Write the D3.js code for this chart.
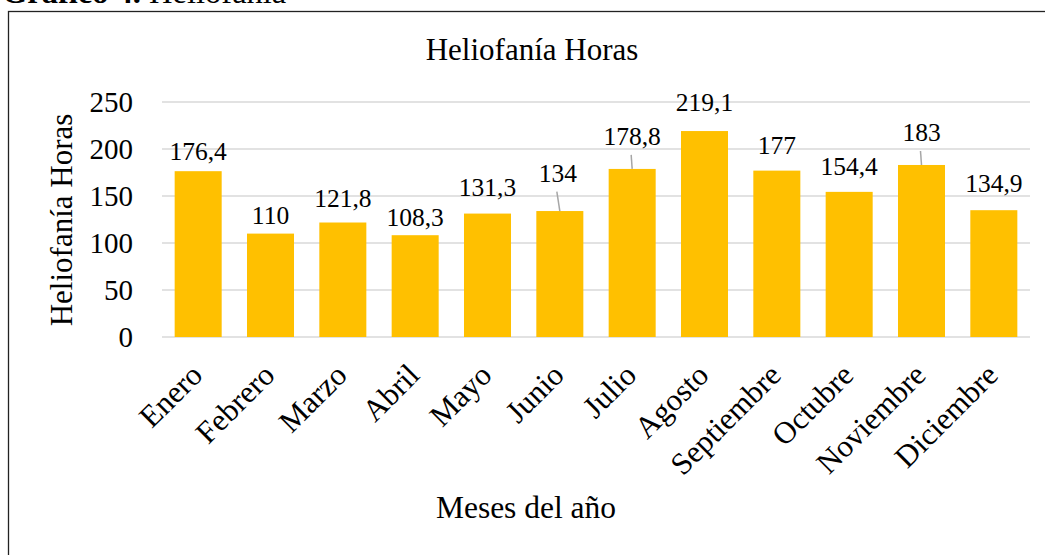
<!DOCTYPE html>
<html>
<head>
<meta charset="utf-8">
<script src="https://cdn.jsdelivr.net/npm/d3@7"></script>
<style>
  html, body { margin: 0; padding: 0; background: #fff; }
  svg { display: block; font-family: "Liberation Serif", "Times New Roman", serif; }
</style>
</head>
<body>
<svg id="chart" width="1045" height="555"></svg>
<script>
// ---- data ----
const months = ["Enero","Febrero","Marzo","Abril","Mayo","Junio","Julio","Agosto","Septiembre","Octubre","Noviembre","Diciembre"];
const hours = [176.4, 110, 121.8, 108.3, 131.3, 134, 178.8, 219.1, 177, 154.4, 183, 134.9];
const valueLabels = ["176,4","110","121,8","108,3","131,3","134","178,8","219,1","177","154,4","183","134,9"];
const yTicks = [0, 50, 100, 150, 200, 250];
const chartTitle = "Heliofanía Horas";
const yTitle = "Heliofanía Horas";
const xTitle = "Meses del año";

// ---- layout (label placement as in the reference) ----
const labelGap = [10.7, 9.7, 15.3, 9.3, 17.3, 29.4, 24, 20.3, 16.7, 16.6, 24, 18.4];
const leader = [false,false,false,false,false,true,true,false,false,false,true,false];
const labelDx = [0,0,0,0,0,-2,0,0,0,0,0,0];

const svg = d3.select("#chart");

// caption (cut off at top, as in the reference)
const cap = svg.append("text").attr("x", 2).attr("y", 3)
  .attr("font-size", 32.5).attr("fill", "#000");
cap.append("tspan").attr("font-weight", "bold").text("Gráfico 4. ");
cap.append("tspan").text("Heliofanía");

// chart border
svg.append("rect").attr("x", 8.5).attr("y", 11.5).attr("width", 1100).attr("height", 700)
  .attr("fill", "#fff").attr("stroke", "#222").attr("stroke-width", 1.3);

const x = d3.scaleBand().domain(months).range([162, 1030]).paddingInner(0.35).paddingOuter(0.175);
const y = d3.scaleLinear().domain([0, 250]).range([337, 102]);

// gridlines
svg.append("g").selectAll("line").data(yTicks).join("line")
  .attr("x1", 162).attr("x2", 1030)
  .attr("y1", d => y(d)).attr("y2", d => y(d))
  .attr("stroke", "#d9d9d9").attr("stroke-width", 1.5);

// y axis
const yAxis = svg.append("g").attr("transform", "translate(133,0)")
  .call(d3.axisLeft(y).tickValues(yTicks).tickSize(0).tickPadding(0).tickFormat(d3.format("d")));
yAxis.select(".domain").remove();
yAxis.selectAll("text").attr("font-size", 29).attr("fill", "#000")
  .attr("font-family", "Liberation Serif, serif").attr("dy", "0.34em");

// bars
svg.append("g").selectAll("rect").data(hours).join("rect")
  .attr("x", (d, i) => x(months[i]))
  .attr("y", d => y(d))
  .attr("width", x.bandwidth())
  .attr("height", d => y(0) - y(d))
  .attr("fill", "#FFC000");

// leader lines
svg.append("g").selectAll("line").data(hours.map((d, i) => i).filter(i => leader[i])).join("line")
  .attr("x1", i => x(months[i]) + x.bandwidth() / 2 + labelDx[i] - 1)
  .attr("x2", i => x(months[i]) + x.bandwidth() / 2)
  .attr("y1", i => y(hours[i]) - labelGap[i] + 10)
  .attr("y2", i => y(hours[i]))
  .attr("stroke", "#a6a6a6").attr("stroke-width", 1.5);

// data labels
svg.append("g").selectAll("text").data(hours).join("text")
  .attr("x", (d, i) => x(months[i]) + x.bandwidth() / 2 + labelDx[i])
  .attr("y", (d, i) => y(d) - labelGap[i])
  .attr("text-anchor", "middle").attr("font-size", 25.5).attr("fill", "#000")
  .text((d, i) => valueLabels[i]);

// x axis categories
svg.append("g").selectAll("text").data(months).join("text")
  .attr("transform", d => `translate(${x(d) + x.bandwidth() / 2 + 6},377) rotate(-45)`)
  .attr("text-anchor", "end").attr("font-size", 31).attr("fill", "#000")
  .text(d => d);

// titles
svg.append("text").attr("x", 532).attr("y", 60).attr("text-anchor", "middle")
  .attr("font-size", 31).attr("fill", "#000").text(chartTitle);
svg.append("text").attr("transform", "translate(72,220) rotate(-90)").attr("text-anchor", "middle")
  .attr("font-size", 31).attr("fill", "#000").text(yTitle);
svg.append("text").attr("x", 526).attr("y", 518).attr("text-anchor", "middle")
  .attr("font-size", 31.5).attr("fill", "#000").text(xTitle);
</script>
</body>
</html>
